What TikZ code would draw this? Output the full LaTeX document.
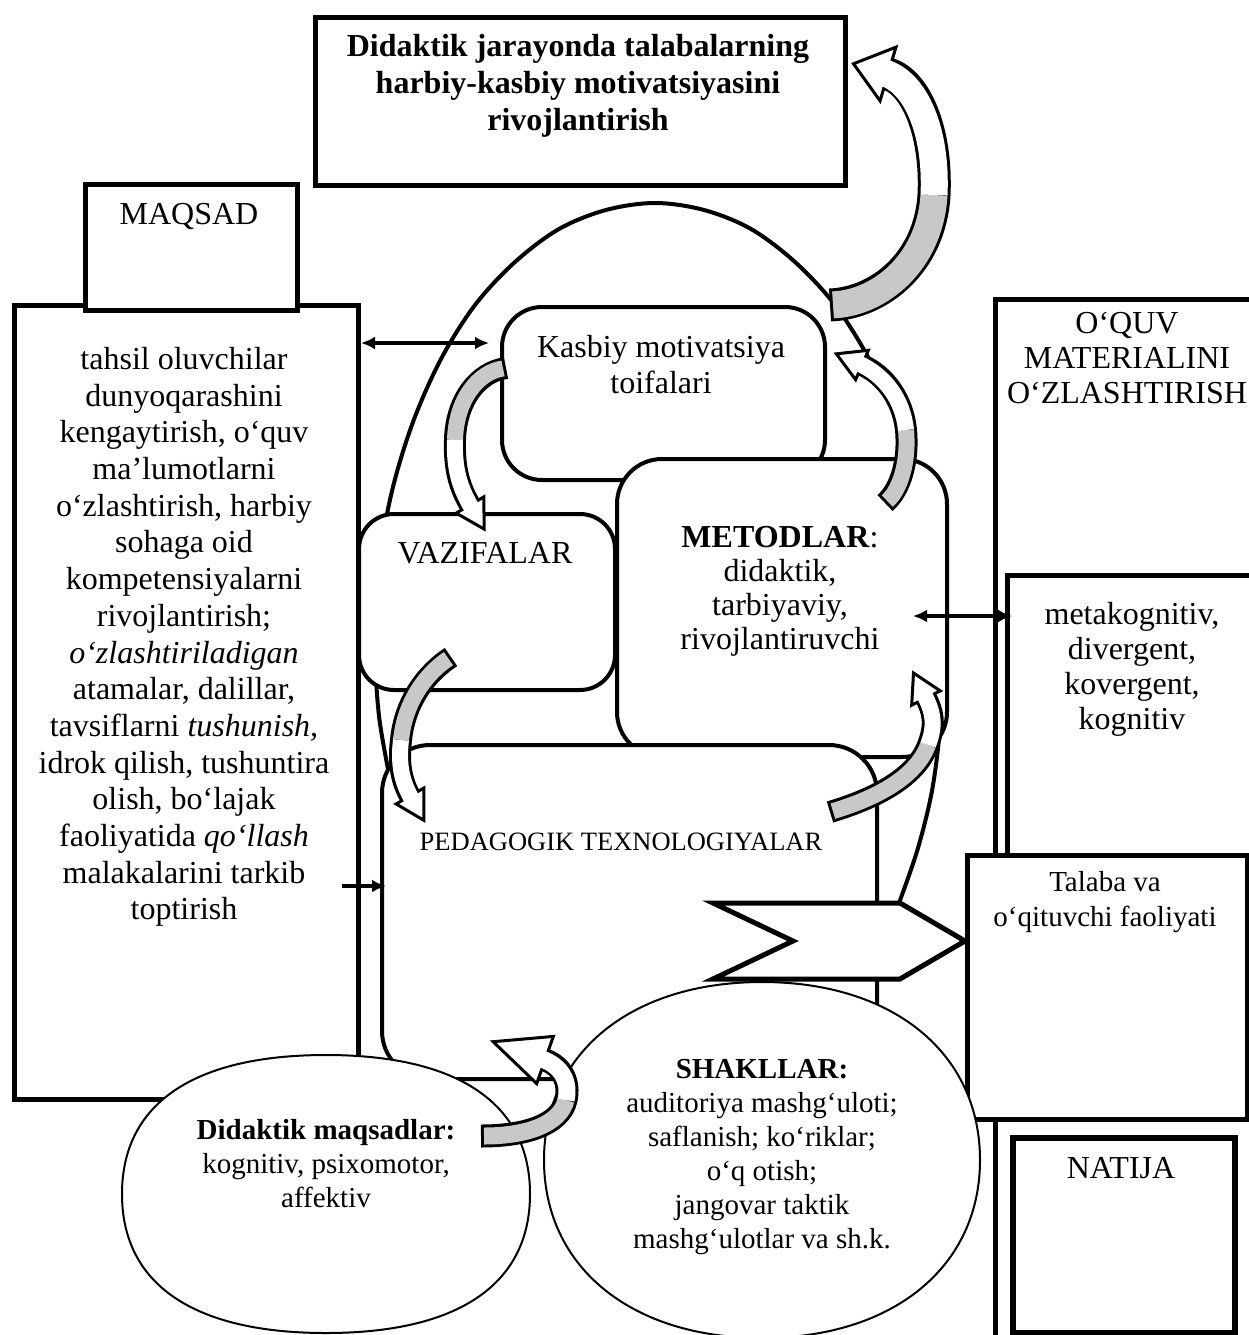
\documentclass[tikz,border=0pt]{standalone}
\usepackage{fontspec}
\setmainfont{Liberation Serif}
\usetikzlibrary{calc,arrows.meta}
\definecolor{ribgray}{RGB}{200,200,200}
\tikzset{
  sqbox/.style={draw, line width=5pt, fill=white, inner sep=0pt, anchor=north west},
  rndbox/.style={draw, line width=4pt, fill=white, inner sep=0pt, anchor=north west, rounded corners=#1},
  oval/.style={draw, line width=2pt, fill=white},
  lbl/.style={align=center, inner sep=0pt, font=\fontsize{32}{36}\selectfont},
  lblsm/.style={align=center, inner sep=0pt, font=\fontsize{29}{34}\selectfont},
  conn/.style={line width=3.5pt, -{Latex[length=14pt,width=13pt]}},
  dconn/.style={line width=3.5pt, {Latex[length=14pt,width=13pt]}-{Latex[length=14pt,width=13pt]}},
}
% #1 prefix, #2 band width, #3 head length, #4 head half width
\newcommand\ribbonarrow[4]{%
  \filldraw[fill=white, draw=black, line width=3pt, line join=miter]
    ($(#1P2)!-#3pt!(#1C4)$) -- ($(#1P2)!#4pt!90:(#1C4)$) -- ($(#1P2)!#4pt!-90:(#1C4)$) -- cycle;
  \draw[line width=#2pt+6pt] (#1P0) .. controls (#1C1) and (#1C2) .. (#1P1) .. controls (#1C3) and (#1C4) .. (#1P2);
  \draw[line width=#2pt, draw=ribgray, shorten <=3pt] (#1P0) .. controls (#1C1) and (#1C2) .. (#1P1);
  \draw[line width=#2pt, draw=white, shorten >=-4pt] (#1P1) .. controls (#1C3) and (#1C4) .. (#1P2);
}
\begin{document}
\begin{tikzpicture}[x=1pt,y=-1pt]
\useasboundingbox (0,0) rectangle (1249,1335);
\clip (0,0) rectangle (1249,1335);

% large arch behind the central boxes
\draw[line width=4pt] plot[smooth, tension=0.55] coordinates {(392,789) (379,716) (375,640) (379,564) (392,491) (413,422) (441,359) (475,305) (515,262) (559,229) (606,210) (655,203) (704,210) (751,229) (795,262) (835,305) (869,359) (897,422) (918,491) (931,564) (938,640) (941,710) (933,785) (918,848) (899,903)};

% top goal box
\node[sqbox, minimum width=530pt, minimum height=168pt] (goal) at (313,15) {};

% left column
\node[sqbox, minimum width=344pt, minimum height=794pt] (left) at (12,303) {};
\node[sqbox, minimum width=212pt, minimum height=126pt] (maqsad) at (83,182) {};

% right column
\node[sqbox, minimum width=270pt, minimum height=1060pt] (oquv) at (993,297) {};
\node[sqbox, minimum width=260pt, minimum height=290pt] (meta) at (1005,573) {};
\node[sqbox, minimum width=280pt, minimum height=264pt] (talaba) at (965,853) {};
\node[sqbox, line width=6pt, minimum width=222pt, minimum height=195pt] (natija) at (1010,1135) {};

% central rounded boxes
\node[rndbox=40pt, minimum width=323pt, minimum height=173pt] (kasbiy) at (500,305) {};
\node[rndbox=35pt, minimum width=256pt, minimum height=176pt] (vaz) at (357,512) {};
\node[rndbox=45pt, minimum width=330pt, minimum height=298pt] (met) at (615,457) {};
\node[rndbox=48pt, minimum width=495pt, minimum height=334pt] (ped) at (380,743) {};

% chevron pointer to Talaba
\coordinate (chev) at (713,903);
\draw[line width=5pt, fill=white] (chev) -- (900,903) -- (965,941) -- (900,979) -- (713,979) -- (793,941) -- cycle;

% ovals
\coordinate (didc) at (326,1194);
\draw[oval] (530,1194) .. controls (530,1284) and (459,1333) .. (326,1333) .. controls (193,1333) and (122,1284) .. (122,1194) .. controls (122,1104) and (193,1055) .. (326,1055) .. controls (459,1055) and (530,1104) .. (530,1194) -- cycle;
\coordinate (shc) at (762,1160);
\draw[oval] (980,1160) .. controls (980,1267) and (893,1338) .. (762,1338) .. controls (631,1338) and (544,1267) .. (544,1160) .. controls (544,1053) and (631,982) .. (762,982) .. controls (893,982) and (980,1053) .. (980,1160) -- cycle;

% straight connectors
\coordinate (da1) at (361,343); \coordinate (da2) at (489,343);
\draw[dconn] (da1) -- (da2);
\coordinate (db1) at (913,616); \coordinate (db2) at (1012,616);
\draw[dconn] (db1) -- (db2);
\coordinate (dc1) at (342,886); \coordinate (dc2) at (386,886);
\draw[conn] (dc1) -- (dc2);

% curved ribbon arrows
% F: arch -> goal box
\coordinate (fP0) at (830,305); \coordinate (fC1) at (880,303); \coordinate (fC2) at (930,262);
\coordinate (fP1) at (934,195); \coordinate (fC3) at (937,130); \coordinate (fC4) at (915,82);
\coordinate (fP2) at (888,74);
\ribbonarrow{f}{27}{36}{28}
% A: Kasbiy -> Vazifalar
\coordinate (aP0) at (506,368); \coordinate (aC1) at (478,372); \coordinate (aC2) at (456,400);
\coordinate (aP1) at (455,440); \coordinate (aC3) at (454,470); \coordinate (aC4) at (460,488);
\coordinate (aP2) at (470,505);
\ribbonarrow{a}{16}{28}{16}
% B: Vazifalar -> Pedagogik
\coordinate (bP0) at (451,657); \coordinate (bC1) at (428,672); \coordinate (bC2) at (405,700);
\coordinate (bP1) at (401,740); \coordinate (bC3) at (398,765); \coordinate (bC4) at (402,782);
\coordinate (bP2) at (410,796);
\ribbonarrow{b}{16}{28}{16}
% C: Metodlar -> Kasbiy
\coordinate (cP0) at (885,503); \coordinate (cC1) at (900,490); \coordinate (cC2) at (909,462);
\coordinate (cP1) at (906,430); \coordinate (cC3) at (903,400); \coordinate (cC4) at (885,375);
\coordinate (cP2) at (862,365);
\ribbonarrow{c}{16}{28}{16}
% D: Pedagogik -> Metodlar
\coordinate (dP0) at (830,812); \coordinate (dC1) at (870,800); \coordinate (dC2) at (915,780);
\coordinate (dP1) at (928,745); \coordinate (dC3) at (936,724); \coordinate (dC4) at (933,712);
\coordinate (dP2) at (926,698);
\ribbonarrow{d}{16}{28}{16}
% E: Didaktik maqsadlar -> up
\coordinate (eP0) at (481,1136); \coordinate (eC1) at (525,1136); \coordinate (eC2) at (560,1125);
\coordinate (eP1) at (566,1100); \coordinate (eC3) at (570,1082); \coordinate (eC4) at (562,1066);
\coordinate (eP2) at (545,1060);
\ribbonarrow{e}{17}{55}{25}

% texts
\node[lbl, font=\fontsize{32}{37}\selectfont\bfseries] (goalt) at (578,86)
  {Didaktik jarayonda talabalarning\\harbiy-kasbiy motivatsiyasini\\rivojlantirish};
\node[lbl] (maqsadt) at (189,216) {MAQSAD};
\node[lbl, font=\fontsize{32}{36.7}\selectfont] (leftt) at (184,637)
  {tahsil oluvchilar\\dunyoqarashini\\kengaytirish, o‘quv\\ma’lumotlarni\\o‘zlashtirish, harbiy\\sohaga oid\\kompetensiyalarni\\rivojlantirish;\\\textit{o‘zlashtiriladigan}\\atamalar, dalillar,\\tavsiflarni \textit{tushunish,}\\idrok qilish, tushuntira\\olish, bo‘lajak\\faoliyatida \textit{qo‘llash}\\malakalarini tarkib\\toptirish};
\node[lbl] (kasbiyt) at (661,365) {Kasbiy motivatsiya\\toifalari};
\node[lbl] (vazt) at (485,553) {VAZIFALAR};
\node[lbl, font=\fontsize{32}{34}\selectfont] (mett) at (780,591)
  {\textbf{METODLAR}:\\didaktik,\\tarbiyaviy,\\rivojlantiruvchi};
\node[lbl, font=\fontsize{26.5}{30}\selectfont] (pedt) at (621,842) {PEDAGOGIK TEXNOLOGIYALAR};
\node[lbl, font=\fontsize{32}{35}\selectfont] (oquvt) at (1127,358) {O‘QUV\\MATERIALINI\\O‘ZLASHTIRISH};
\node[lbl, font=\fontsize{32}{35}\selectfont] (metat) at (1132,669) {metakognitiv,\\divergent,\\kovergent,\\kognitiv};
\node[lblsm, font=\fontsize{29}{35}\selectfont] (talabat) at (1105,902) {Talaba va\\o‘qituvchi faoliyati};
\node[lbl] (natijat) at (1121,1168) {NATIJA};
\node[lblsm] (didt) at (326,1164) {\textbf{Didaktik maqsadlar:}\\kognitiv, psixomotor,\\affektiv};
\node[lblsm] (shaklt) at (762,1157) {\textbf{SHAKLLAR:}\\auditoriya mashg‘uloti;\\saflanish; ko‘riklar;\\o‘q otish;\\jangovar taktik\\mashg‘ulotlar va sh.k.};
\end{tikzpicture}
\end{document}
